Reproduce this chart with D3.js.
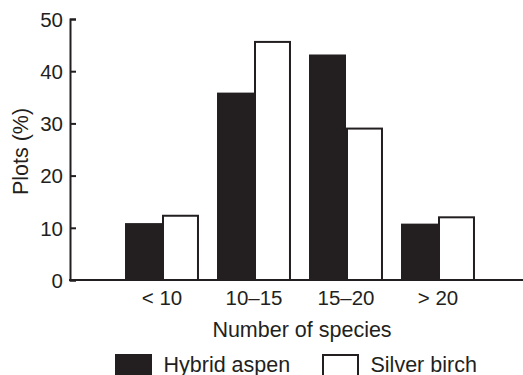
<!DOCTYPE html>
<html>
<head>
<meta charset="utf-8">
<script src="https://cdn.jsdelivr.net/npm/d3@7"></script>
<style>
  body { margin: 0; background: #fff; }
  svg { display: block; }
  text { font-family: 'Liberation Sans', Arial, Helvetica, sans-serif; fill: #231f20; }
</style>
</head>
<body>
<div id="chart"></div>
<script>
// categories on the x axis
var categories = ['< 10', '10\u201315', '15\u201320', '> 20'];
// the two series
var seriesNames = ['Hybrid aspen', 'Silver birch'];
var hybridAspen = [10.9, 35.9, 43.2, 10.8];
var silverBirch = [12.5, 45.8, 29.2, 12.2];
// y ticks
var yTicks = [0, 10, 20, 30, 40, 50];

var INK = '#231f20';
var width = 523, height = 375;
var plotLeft = 70, plotBottom = 280, plotTop = 19;

var svg = d3.select('#chart')
  .append('svg')
  .attr('width', width)
  .attr('height', height);

// scales
var x0 = d3.scaleBand()
  .domain(categories)
  .range([plotLeft + 46, plotLeft + 46 + 4 * 92])
  .paddingInner(0.196)
  .paddingOuter(0.098);

var x1 = d3.scaleBand()
  .domain(seriesNames)
  .range([0, x0.bandwidth()]);

var y = d3.scaleLinear()
  .domain([0, 50])
  .range([plotBottom, plotTop]);

var data = categories.map(function (c, i) {
  return {
    cat: c,
    values: [
      { name: seriesNames[0], value: hybridAspen[i] },
      { name: seriesNames[1], value: silverBirch[i] }
    ]
  };
});

// bars
var groups = svg.selectAll('.grp')
  .data(data)
  .enter()
  .append('g')
  .attr('class', 'grp')
  .attr('transform', function (d) { return 'translate(' + x0(d.cat) + ',0)'; });

groups.selectAll('rect')
  .data(function (d) { return d.values; })
  .enter()
  .append('rect')
  .attr('x', function (d) { return d.name === seriesNames[0] ? x1(d.name) : x1(d.name) + 1; })
  .attr('y', function (d) { return d.name === seriesNames[0] ? y(d.value) : y(d.value) + 1; })
  .attr('width', function (d) { return d.name === seriesNames[0] ? x1.bandwidth() : x1.bandwidth() - 2; })
  .attr('height', function (d) { return d.name === seriesNames[0] ? plotBottom - y(d.value) : plotBottom - y(d.value) - 1; })
  .attr('fill', function (d) { return d.name === seriesNames[0] ? INK : '#fff'; })
  .attr('stroke', function (d) { return d.name === seriesNames[0] ? 'none' : INK; })
  .attr('stroke-width', 2);

// y axis (ticks point inward)
var yAxis = svg.append('g')
  .attr('transform', 'translate(' + plotLeft + ',0)')
  .call(d3.axisLeft(y).tickValues(yTicks).tickSize(-6).tickPadding(7));
yAxis.selectAll('path, line').attr('stroke', INK).attr('stroke-width', 2);
yAxis.selectAll('text')
  .style('font-size', '20.5px')
  .attr('dy', '0.36em')
  .style('font-family', "'Liberation Sans', Arial, sans-serif")
  .attr('fill', INK);

// x axis: baseline line and category labels
svg.append('line')
  .attr('x1', plotLeft - 1)
  .attr('x2', width)
  .attr('y1', plotBottom)
  .attr('y2', plotBottom)
  .attr('stroke', INK)
  .attr('stroke-width', 2);

var xAxis = svg.append('g')
  .attr('transform', 'translate(0,' + plotBottom + ')')
  .call(d3.axisBottom(x0).tickSize(0).tickPadding(10.5));
xAxis.select('.domain').remove();
xAxis.selectAll('text')
  .style('font-size', '20.5px')
  .style('font-family', "'Liberation Sans', Arial, sans-serif")
  .attr('fill', INK);

// axis titles
svg.append('text')
  .attr('x', 302)
  .attr('y', 337)
  .attr('text-anchor', 'middle')
  .style('font-size', '21.5px')
  .text('Number of species');

svg.append('text')
  .attr('transform', 'translate(28,' + 151.5 + ') rotate(-90)')
  .attr('text-anchor', 'middle')
  .style('font-size', '21.5px')
  .text('Plots (%)');

// legend
var legendX = [115, 322];
var legend = svg.selectAll('.legend')
  .data(seriesNames)
  .enter()
  .append('g')
  .attr('class', 'legend')
  .attr('transform', function (d, i) { return 'translate(' + legendX[i] + ',354)'; });

legend.append('rect')
  .attr('x', function (d, i) { return i === 0 ? 0 : 1; })
  .attr('y', function (d, i) { return i === 0 ? 0 : 1; })
  .attr('width', function (d, i) { return i === 0 ? 37 : 35; })
  .attr('height', 26)
  .attr('fill', function (d, i) { return i === 0 ? INK : '#fff'; })
  .attr('stroke', function (d, i) { return i === 0 ? 'none' : INK; })
  .attr('stroke-width', 2);

legend.append('text')
  .attr('x', 48.5)
  .attr('y', 17.5)
  .style('font-size', '21.5px')
  .text(function (d) { return d; });
</script>
</body>
</html>
